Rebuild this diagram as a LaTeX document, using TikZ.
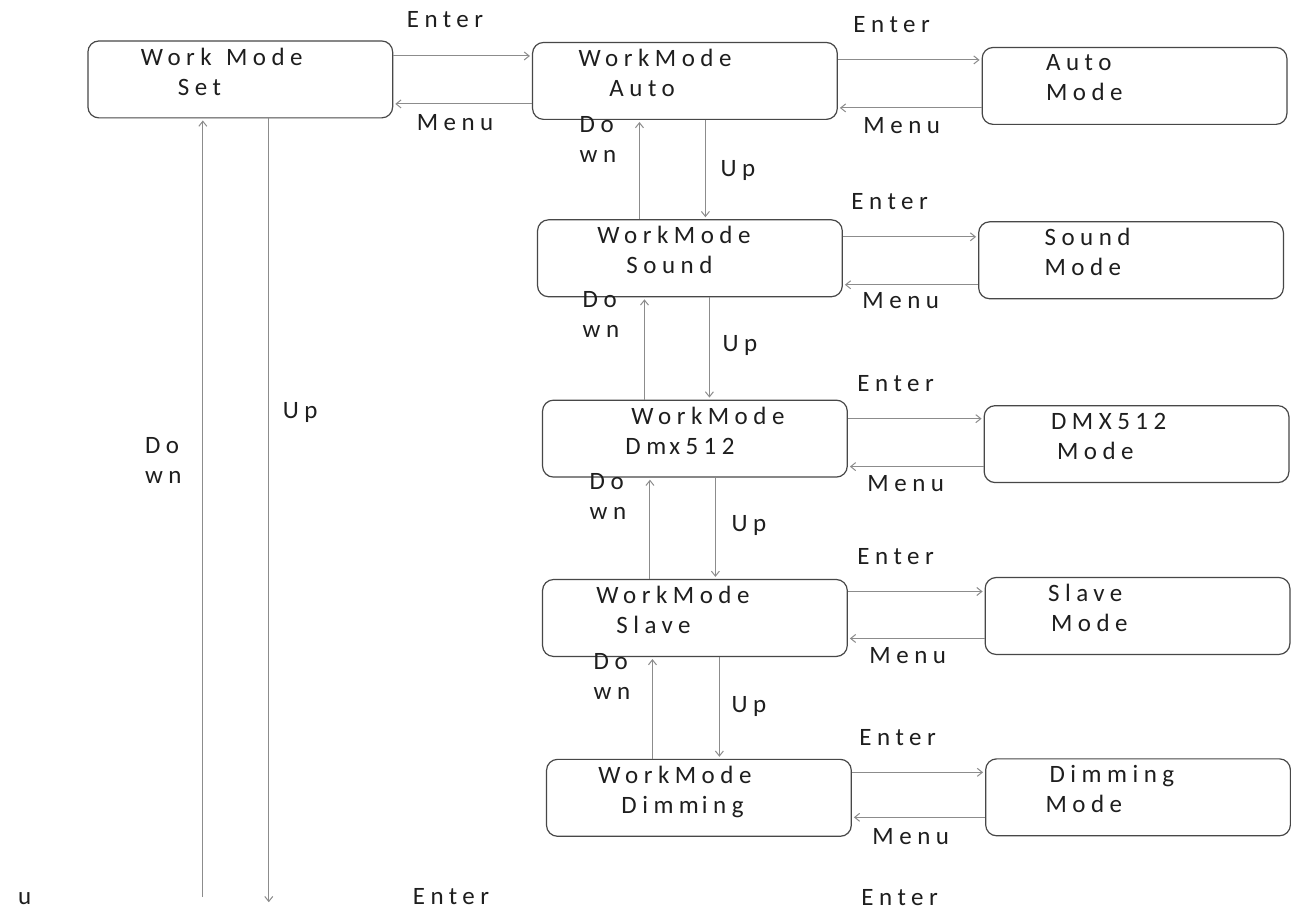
\documentclass[tikz,border=0pt]{standalone}
\usepackage{fontspec}
\setmainfont{Carlito}[LetterSpace=22]
\usepackage{tikz}
\usetikzlibrary{arrows.meta,positioning}
\definecolor{ModeEdge}{HTML}{474747}
\definecolor{ModeArrow}{HTML}{8C8C8C}
\definecolor{ModeText}{HTML}{1E1E1E}
\newcommand{\ind}[1]{\hspace*{#1pt}}

\begin{document}
\begin{tikzpicture}[x=1pt, y=-1pt, font=\fontsize{25}{30}\selectfont, >={Straight Barb[length=5pt,width=8pt]},
  menubox/.style={draw=ModeEdge, line width=1.2pt, rounded corners=11pt, fill=white, text=ModeText, minimum width=305pt, minimum height=77pt, text width=305pt, inner xsep=0pt, inner ysep=0pt, align=left, execute at begin node={\rule{0pt}{14pt}}, execute at end node={\rule[-16pt]{0pt}{16pt}}},
  lbl/.style={anchor=base west, inner sep=0pt, text=ModeText, align=left},
  arr/.style={->, line width=1pt, ModeArrow, shorten >=2pt}]
\fill[white] (0,0) rectangle (1291,912);
% left column
\node[menubox] (set) at (240.5,79.5) {\ind{53}Work\kern6pt\ Mode\\\ind{90}Set};
% middle column
\node[menubox] (auto) at (685.5,81) {\ind{46}WorkMode\\\ind{77}Auto};
\node[menubox] (sound) at (690.5,258.5) {\ind{60}WorkMode\\\ind{89}Sound};
\node[menubox] (dmx) at (695.5,439) {\ind{89}WorkMode\\\ind{83}Dm\kern3pt x512};
\node[menubox] (slave) at (695.5,618.5) {\ind{54}WorkMode\\\ind{74}Slave};
\node[menubox] (dimming) at (699.5,798.5) {\ind{52}WorkMode\\\ind{75}Dimm\kern3pt ing};
% right column
\node[menubox] (autom) at (1135.5,86) {\ind{64}Auto\\\ind{64}Mode};
\node[menubox] (soundm) at (1132,260.5) {\ind{66}Sound\\\ind{66}Mode};
\node[menubox] (dmxm) at (1137.5,444.5) {\ind{67}DMX512\\\ind{73}Mode};
\node[menubox] (slavem) at (1138.5,616.5) {\ind{63}Slave\\\ind{66}Mode};
\node[menubox] (dimm) at (1139,798) {\ind{64}Dimming\\\ind{60}Mode};
% enter / menu
\draw[arr] ([yshift=23.5pt]set.east) -- ([yshift=23.5pt]set.east -| auto.west);
\draw[arr] ([yshift=-24.5pt]set.east -| auto.west) -- ([yshift=-24.5pt]set.east);
\draw[arr] ([yshift=21pt]auto.east) -- ([yshift=21pt]auto.east -| autom.west);
\draw[arr] ([yshift=-27pt]auto.east -| autom.west) -- ([yshift=-27pt]auto.east);
\draw[arr] ([yshift=21.5pt]sound.east) -- ([yshift=21.5pt]sound.east -| soundm.west);
\draw[arr] ([yshift=-26.5pt]sound.east -| soundm.west) -- ([yshift=-26.5pt]sound.east);
\draw[arr] ([yshift=20pt]dmx.east) -- ([yshift=20pt]dmx.east -| dmxm.west);
\draw[arr] ([yshift=-28pt]dmx.east -| dmxm.west) -- ([yshift=-28pt]dmx.east);
\draw[arr] ([yshift=26.5pt]slave.east) -- ([yshift=26.5pt]slave.east -| slavem.west);
\draw[arr] ([yshift=-20.5pt]slave.east -| slavem.west) -- ([yshift=-20.5pt]slave.east);
\draw[arr] ([yshift=25.5pt]dimming.east) -- ([yshift=25.5pt]dimming.east -| dimm.west);
\draw[arr] ([yshift=-19.5pt]dimming.east -| dimm.west) -- ([yshift=-19.5pt]dimming.east);
% up / down
\draw[arr] ([xshift=20.5pt]auto.south) -- ([xshift=20.5pt]auto.south |- sound.north);
\draw[arr] ([xshift=-45.5pt]auto.south |- sound.north) -- ([xshift=-45.5pt]auto.south);
\draw[arr] ([xshift=19.5pt]sound.south) -- ([xshift=19.5pt]sound.south |- dmx.north);
\draw[arr] ([xshift=-45.5pt]sound.south |- dmx.north) -- ([xshift=-45.5pt]sound.south);
\draw[arr] ([xshift=20.5pt]dmx.south) -- ([xshift=20.5pt]dmx.south |- slave.north);
\draw[arr] ([xshift=-45pt]dmx.south |- slave.north) -- ([xshift=-45pt]dmx.south);
\draw[arr] ([xshift=24.5pt]slave.south) -- ([xshift=24.5pt]slave.south |- dimming.north);
\draw[arr] ([xshift=-42.5pt]slave.south |- dimming.north) -- ([xshift=-42.5pt]slave.south);
% long return arrows
\coordinate (downend) at (203,898);
\coordinate (upend) at (269,905);
\draw[arr] (downend) -- (downend |- set.south);
\draw[arr] (upend |- set.south) -- (upend);
% labels (base of last line)
\node[lbl] (enter1) at (407,28) {Enter};
\node[lbl] (menu1) at (417,131) {Menu};
\node[lbl] (enter2) at (854,33) {Enter};
\node[lbl] (menu2) at (864,134) {Menu};
\node[lbl] (enter3) at (852,210) {Enter};
\node[lbl] (menu3) at (863,309) {Menu};
\node[lbl] (enter4) at (858,392) {Enter};
\node[lbl] (menu4) at (868,492) {Menu};
\node[lbl] (enter5) at (858,565) {Enter};
\node[lbl] (menu5) at (870,664) {Menu};
\node[lbl] (enter6) at (860,746) {Enter};
\node[lbl] (menu6) at (873,845) {Menu};
\node[lbl] (down1) at (580,163) {Do\\wn};
\node[lbl] (down2) at (583,338) {Do\\wn};
\node[lbl] (down3) at (590,520) {Do\\wn};
\node[lbl] (down4) at (594,700) {Do\\wn};
\node[lbl] (up1) at (721,177) {Up};
\node[lbl] (up2) at (723,352) {Up};
\node[lbl] (up3) at (732,532) {Up};
\node[lbl] (up4) at (732,713) {Up};
\node[lbl] (down0) at (145,484) {Do\\wn};
\node[lbl] (up0) at (283,419) {Up};
\node[lbl] (u) at (18,905) {u};
\node[lbl] (enter7) at (413,905) {Enter};
\node[lbl] (enter8) at (862,906) {Enter};
\useasboundingbox (0,0) rectangle (1291,912);
\end{tikzpicture}
\end{document}
